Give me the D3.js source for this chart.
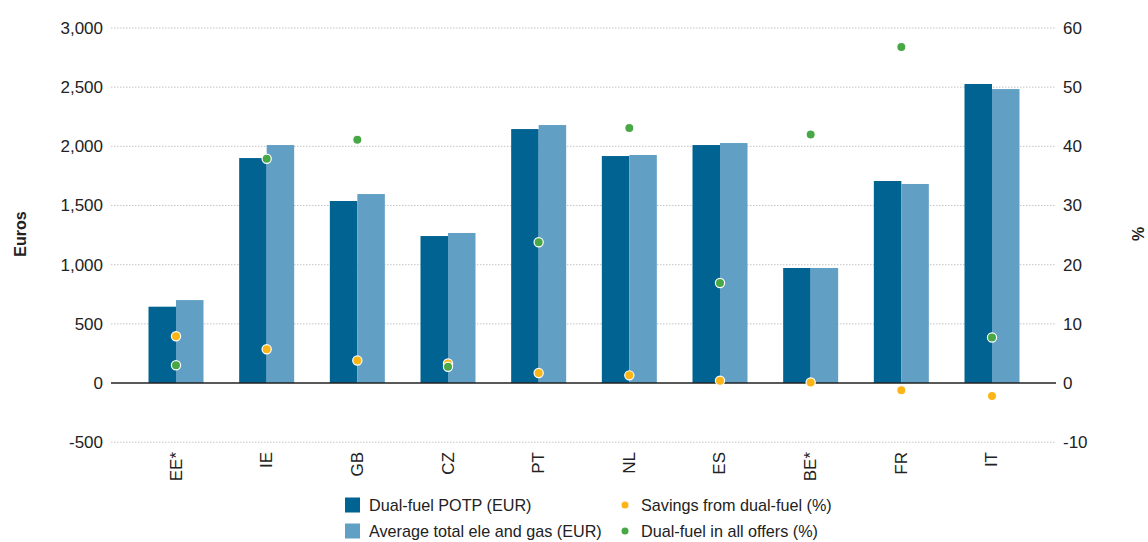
<!DOCTYPE html>
<html>
<head>
<meta charset="utf-8">
<script src="https://cdn.jsdelivr.net/npm/d3@7"></script>
<style>
  body { margin: 0; background: #fff; }
  svg { font-family: "Liberation Sans", Arial, sans-serif; }
</style>
</head>
<body>
<svg id="chart" width="1148" height="542"></svg>
<script>
// data
const countries = ["EE*", "IE", "GB", "CZ", "PT", "NL", "ES", "BE*", "FR", "IT"];
const potp = [645, 1901, 1538, 1242, 2146, 1918, 2011, 972, 1707, 2527];
const avgTotal = [701, 2011, 1597, 1268, 2180, 1927, 2028, 972, 1682, 2484];
const savings = [7.9, 5.7, 3.8, 3.3, 1.7, 1.3, 0.4, 0.1, -1.2, -2.2];
const dualShare = [3.0, 37.9, 41.1, 2.75, 23.8, 43.1, 16.9, 42.0, 56.8, 7.7];
const leftTicks = [-500, 0, 500, 1000, 1500, 2000, 2500, 3000];
const rightTicks = [-10, 0, 10, 20, 30, 40, 50, 60];

const colDark = "#006391", colLight = "#629fc4", colOrange = "#fbb516", colGreen = "#48a846";

const svg = d3.select("#chart");
const plotLeft = 111, plotRight = 1056, plotTop = 28, plotBottom = 442.2;

const yL = d3.scaleLinear().domain([-500, 3000]).range([plotBottom, plotTop]);
const yR = d3.scaleLinear().domain([-10, 60]).range([plotBottom, plotTop]);
const x = d3.scaleBand().domain(countries).range([130.67, 1037.33]);
const xSub = d3.scaleBand().domain(["potp", "avg"]).range([-27.5, 27.5]);
const cx = d => x(d) + x.bandwidth() / 2;
const fmt = d3.formatLocale({ decimal: ".", thousands: ",", grouping: [3], currency: ["", ""], minus: "-" }).format(",");

// gridlines
svg.append("g").selectAll("line")
  .data(leftTicks.filter(t => t !== 0))
  .join("line")
  .attr("x1", plotLeft).attr("x2", plotRight)
  .attr("y1", d => yL(d)).attr("y2", d => yL(d))
  .attr("stroke", "#c4c4c4").attr("stroke-width", 1)
  .attr("stroke-dasharray", "1.5,1.5");

// axis labels
const yAxisL = d3.axisLeft(yL).tickValues(leftTicks).tickSize(0).tickPadding(8)
  .tickFormat(fmt);
svg.append("g").attr("transform", `translate(${plotLeft},0)`).call(yAxisL)
  .call(g => g.select(".domain").remove())
  .selectAll("text").attr("font-size", 17).attr("fill", "#222")
  .attr("font-family", "Liberation Sans, Arial, sans-serif");

const yAxisR = d3.axisRight(yR).tickValues(rightTicks).tickSize(0).tickPadding(7)
  .tickFormat(fmt);
svg.append("g").attr("transform", `translate(${plotRight},0)`).call(yAxisR)
  .call(g => g.select(".domain").remove())
  .selectAll("text").attr("font-size", 17).attr("fill", "#222")
  .attr("font-family", "Liberation Sans, Arial, sans-serif");

// bars
const rows = countries.map((c, i) => ({ c, potp: potp[i], avg: avgTotal[i], sav: savings[i], share: dualShare[i] }));
const groups = svg.append("g").selectAll("g")
  .data(rows).join("g")
  .attr("transform", d => `translate(${cx(d.c)},0)`);

groups.append("rect")
  .attr("x", xSub("potp")).attr("width", xSub.bandwidth())
  .attr("y", d => yL(d.potp)).attr("height", d => yL(0) - yL(d.potp))
  .attr("fill", colDark);
groups.append("rect")
  .attr("x", xSub("avg")).attr("width", xSub.bandwidth())
  .attr("y", d => yL(d.avg)).attr("height", d => yL(0) - yL(d.avg))
  .attr("fill", colLight);

// zero line
svg.append("line")
  .attr("x1", plotLeft).attr("x2", plotRight)
  .attr("y1", yL(0)).attr("y2", yL(0))
  .attr("stroke", "#222").attr("stroke-width", 1.5);

// points
svg.append("g").selectAll("circle")
  .data(rows).join("circle")
  .attr("cx", d => cx(d.c)).attr("cy", d => yR(d.sav)).attr("r", 4.6)
  .attr("fill", colOrange).attr("stroke", "#fff").attr("stroke-width", 1.2);
svg.append("g").selectAll("circle")
  .data(rows).join("circle")
  .attr("cx", d => cx(d.c)).attr("cy", d => yR(d.share)).attr("r", 4.6)
  .attr("fill", colGreen).attr("stroke", "#fff").attr("stroke-width", 1.2);

// x labels
svg.append("g").selectAll("text")
  .data(countries).join("text")
  .attr("transform", d => `translate(${cx(d) + 5.5},452) rotate(-90)`)
  .attr("text-anchor", "end")
  .attr("font-size", 17).attr("fill", "#222")
  .text(d => d);

// axis titles
svg.append("text")
  .attr("transform", "translate(26,234) rotate(-90)")
  .attr("text-anchor", "middle").attr("font-size", 16).attr("font-weight", "bold")
  .attr("fill", "#222").text("Euros");
svg.append("text")
  .attr("transform", "translate(1144,234) rotate(-90)")
  .attr("text-anchor", "middle").attr("font-size", 16).attr("font-weight", "bold")
  .attr("fill", "#222").text("%");

// legend
const legend = svg.append("g");
const barLegend = [["Dual-fuel POTP (EUR)", colDark], ["Average total ele and gas (EUR)", colLight]];
const dotLegend = [["Savings from dual-fuel (%)", colOrange], ["Dual-fuel in all offers (%)", colGreen]];
barLegend.forEach(([label, col], i) => {
  const yy = 505 + i * 26;
  legend.append("rect").attr("x", 345).attr("y", yy - 7.5).attr("width", 15).attr("height", 15).attr("fill", col);
  legend.append("text").attr("x", 369).attr("y", yy).attr("dy", "0.35em")
    .attr("font-size", 16.2).attr("fill", "#222").text(label);
});
dotLegend.forEach(([label, col], i) => {
  const yy = 505 + i * 26;
  legend.append("circle").attr("cx", 625).attr("cy", yy).attr("r", 3.5).attr("fill", col);
  legend.append("text").attr("x", 641).attr("y", yy).attr("dy", "0.35em")
    .attr("font-size", 16.2).attr("fill", "#222").text(label);
});
</script>
</body>
</html>
